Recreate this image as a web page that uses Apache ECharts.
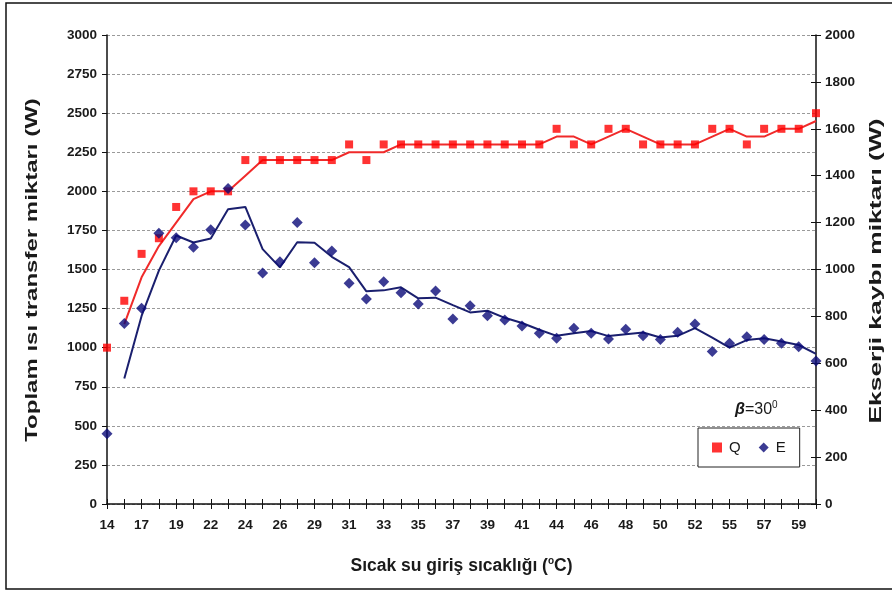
<!DOCTYPE html>
<html><head><meta charset="utf-8">
<script src="https://cdn.jsdelivr.net/npm/echarts@6/dist/echarts.min.js"></script>
<style>html,body{margin:0;padding:0;background:#fff}#c{width:892px;height:592px}</style>
</head><body><div id="c"></div>
<script>
const categories = ['14','15','17','18','19','20','22','23','24','25','26','28','29','30','31','32','33','34','35','36','37','38','39','40','41','43','44','45','46','47','48','49','50','51','52','54','55','56','57','58','59','60'];
const qValues = [1000,1300,1600,1700,1900,2000,2000,2000,2200,2200,2200,2200,2200,2200,2300,2200,2300,2300,2300,2300,2300,2300,2300,2300,2300,2300,2400,2300,2300,2400,2400,2300,2300,2300,2300,2400,2400,2300,2400,2400,2400,2500];
const eValues = [300,770,835,1155,1135,1095,1170,1345,1190,985,1033,1200,1029,1079,941,874,948,901,853,908,789,845,803,785,759,728,707,749,728,704,745,718,702,732,768,650,685,713,702,685,671,610];
const qTrend = [null,1150,1450,1650,1800,1950,2000,2000,2100,2200,2200,2200,2200,2200,2250,2250,2250,2300,2300,2300,2300,2300,2300,2300,2300,2300,2350,2350,2300,2350,2400,2350,2300,2300,2300,2350,2400,2350,2350,2400,2400,2450];
const eTrend = [null,535,802,995,1145,1115,1132,1257,1267,1087,1009,1116,1114,1054,1010,907,911,924,877,880,848,817,824,794,772,743,717,728,738,716,724,731,710,717,750,709,667,699,707,693,678,640];
const leftTitle = 'Toplam ısı transfer miktarı (W)';
const rightTitle = 'Ekserji kaybı miktarı (W)';

const FONT = '"Liberation Sans", Arial, sans-serif';
const lbl = {fontFamily: FONT, fontWeight: 'bold', fontSize: 13.5, color: '#1a1a1a', formatter: v => String(v)};
const chart = echarts.init(document.getElementById('c'));
chart.setOption({
  animation: false,
  backgroundColor: '#fff',
  grid: {left: 107, right: 76, top: 35, bottom: 88, containLabel: false},
  legend: {
    data: ['Q', 'E'], left: 698, top: 428, orient: 'horizontal',
    padding: [12, 14, 12, 14], itemGap: 18, itemWidth: 10, itemHeight: 10,
    borderColor: '#222', borderWidth: 1, backgroundColor: '#fff',
    textStyle: {fontFamily: FONT, fontSize: 15, color: '#1a1a1a', padding: [0, 0, 0, 2]}
  },
  graphic: [
    {type: 'rect', shape: {x: 6, y: 3, width: 900, height: 586}, style: {fill: 'none', stroke: '#111', lineWidth: 1.5}, silent: true},
    {type: 'text', x: 735, y: 400, style: {
      text: '{b|β}{n|=30}{s|0}', fill: '#1a1a1a',
      rich: {
        b: {fontFamily: FONT, fontWeight: 'bold', fontStyle: 'italic', fontSize: 16, fill: '#1a1a1a'},
        n: {fontFamily: FONT, fontSize: 16, fill: '#1a1a1a'},
        s: {fontFamily: FONT, fontSize: 10, fill: '#1a1a1a', verticalAlign: 'top', padding: [0, 0, 9, 0]}
      }}},
    {type: 'text', x: 33, y: 270, rotation: Math.PI / 2, scaleX: 1.5, silent: true, style: {
      text: leftTitle, align: 'center', verticalAlign: 'middle',
      font: 'bold 16px "Liberation Sans", Arial, sans-serif', fill: '#1a1a1a'}},
    {type: 'text', x: 877, y: 271, rotation: Math.PI / 2, scaleX: 1.65, silent: true, style: {
      text: rightTitle, align: 'center', verticalAlign: 'middle',
      font: 'bold 16px "Liberation Sans", Arial, sans-serif', fill: '#1a1a1a'}}
  ],
  xAxis: [
    {type: 'category', data: categories, boundaryGap: false, position: 'bottom',
     axisLine: {lineStyle: {color: '#111', width: 1.5}},
     axisTick: {interval: 0, length: 5, lineStyle: {color: '#111'}},
     axisLabel: {interval: 1, margin: 14, fontFamily: FONT, fontWeight: 'bold', fontSize: 13.5, color: '#1a1a1a'},
     name: '{t|Sıcak su giriş sıcaklığı (}{s|o}{t|C)}', nameLocation: 'middle', nameGap: 52,
     nameTextStyle: {rich: {
       t: {fontFamily: FONT, fontWeight: 'bold', fontSize: 17.5, color: '#1a1a1a'},
       s: {fontFamily: FONT, fontWeight: 'bold', fontSize: 10, color: '#1a1a1a', verticalAlign: 'top', padding: [0, 0, 10, 0]}
     }},
     splitLine: {show: false}},
    {type: 'category', data: categories, boundaryGap: false, position: 'bottom',
     axisLine: {show: false},
     axisTick: {interval: 0, length: 5, inside: true, lineStyle: {color: '#111'}},
     axisLabel: {show: false}, splitLine: {show: false}}
  ],
  yAxis: [
    {type: 'value', min: 0, max: 3000, interval: 250, position: 'left',
     axisLine: {show: true, lineStyle: {color: '#111', width: 1.5}},
     axisTick: {show: true, length: 5, lineStyle: {color: '#111'}},
     axisLabel: Object.assign({margin: 10}, lbl),
     splitLine: {show: true, lineStyle: {color: '#9a9a9a', type: [3, 2], width: 1}}},
    {type: 'value', min: 0, max: 2000, interval: 200, position: 'right',
     axisLine: {show: true, lineStyle: {color: '#111', width: 1.5}},
     axisTick: {show: true, length: 5, lineStyle: {color: '#111'}},
     axisLabel: Object.assign({margin: 9}, lbl),
     splitLine: {show: false}},
    {type: 'value', min: 0, max: 2000, interval: 200, position: 'right',
     axisLine: {show: false},
     axisTick: {show: true, inside: true, length: 5, lineStyle: {color: '#111'}},
     axisLabel: {show: false}, splitLine: {show: false}}
  ],
  series: [
    {name: 'Q trend', type: 'line', data: qTrend, yAxisIndex: 0, symbol: 'none',
     lineStyle: {color: '#f02a2a', width: 2}, z: 2},
    {name: 'E trend', type: 'line', data: eTrend, yAxisIndex: 1, symbol: 'none',
     lineStyle: {color: '#1a1f6e', width: 2}, z: 2},
    {name: 'Q', type: 'scatter', data: qValues, yAxisIndex: 0, symbol: 'rect', symbolSize: 8,
     itemStyle: {color: '#ff0000'}, z: 3},
    {name: 'E', type: 'scatter', data: eValues, yAxisIndex: 1, symbol: 'diamond', symbolSize: 11,
     itemStyle: {color: '#0a0a78'}, z: 4}
  ]
});
</script></body></html>
